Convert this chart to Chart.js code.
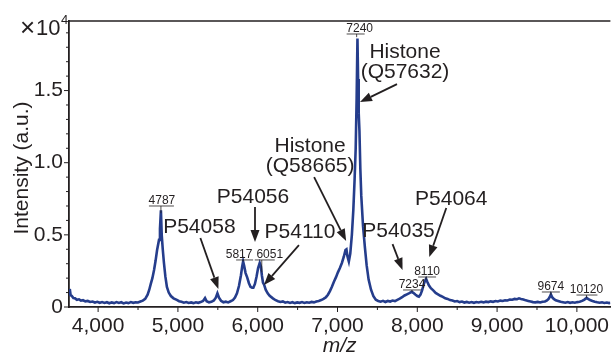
<!DOCTYPE html>
<html>
<head>
<meta charset="utf-8">
<script src="https://cdn.jsdelivr.net/npm/chart.js@4.4.1/dist/chart.umd.min.js"></script>
<style>
  html, body { margin: 0; padding: 0; background: #fff; }
  canvas { display: block; }
</style>
</head>
<body>
<canvas id="spec" width="616" height="356"></canvas>
<script>
// MALDI spectrum: m/z and intensity (counts)
const mzValues = [
  3635, 3645, 3655, 3670, 3690, 3710, 3735, 3760, 3785, 3810, 3840, 3870, 3900, 3930, 3960, 3990,
  4020, 4050, 4080, 4110, 4140, 4170, 4200, 4230, 4260, 4290, 4320, 4350, 4380, 4410, 4440, 4470,
  4500, 4530, 4560, 4590, 4620, 4640, 4660, 4680, 4701, 4720, 4739, 4763, 4775, 4787, 4797, 4810,
  4825, 4843, 4862, 4885, 4912, 4945, 4986, 5015, 5045, 5075, 5105, 5135, 5165, 5195, 5225, 5255,
  5285, 5315, 5340, 5360, 5390, 5420, 5450, 5475, 5495, 5515, 5540, 5570, 5600, 5630, 5660, 5690,
  5715, 5740, 5765, 5790, 5805, 5817, 5830, 5848, 5868, 5890, 5910, 5930, 5945, 5965, 5985, 6005,
  6025, 6040, 6052, 6066, 6080, 6100, 6125, 6150, 6190, 6225, 6255, 6285, 6315, 6345, 6375, 6405,
  6435, 6465, 6495, 6525, 6555, 6585, 6615, 6645, 6675, 6705, 6735, 6765, 6795, 6825, 6855, 6880,
  6905, 6930, 6955, 6980, 7005, 7030, 7055, 7080, 7100, 7112, 7125, 7142, 7160, 7180, 7198, 7214,
  7228, 7240, 7250, 7258, 7266, 7275, 7286, 7298, 7320, 7344, 7365, 7390, 7420, 7450, 7480, 7510,
  7540, 7570, 7600, 7630, 7660, 7690, 7720, 7750, 7780, 7810, 7840, 7870, 7900, 7930, 7950, 7975,
  8000, 8020, 8040, 8060, 8080, 8095, 8110, 8125, 8145, 8170, 8200, 8230, 8260, 8290, 8320, 8350,
  8380, 8410, 8440, 8470, 8500, 8530, 8560, 8590, 8620, 8650, 8680, 8710, 8740, 8770, 8800, 8830,
  8860, 8890, 8920, 8950, 8980, 9010, 9040, 9070, 9100, 9130, 9160, 9190, 9220, 9250, 9275, 9300,
  9330, 9360, 9390, 9420, 9450, 9480, 9510, 9540, 9570, 9600, 9625, 9645, 9660, 9674, 9690, 9710,
  9735, 9765, 9795, 9825, 9855, 9885, 9915, 9945, 9975, 10005, 10035, 10065, 10090, 10110, 10122, 10140,
  10165, 10195, 10225, 10255, 10285, 10315, 10345, 10375, 10405, 10420
];
const intensity = [
  900, 1250, 820, 760, 620, 600, 500, 530, 440, 470, 390, 420, 350, 380, 310, 360,
  290, 340, 280, 330, 260, 320, 270, 340, 280, 330, 250, 310, 270, 340, 290, 330,
  310, 380, 440, 560, 850, 1180, 1600, 2000, 2560, 3200, 3950, 4650, 5400, 6700, 5000, 4000,
  3050, 2100, 1390, 1000, 760, 600, 490, 400, 360, 300, 340, 280, 320, 270, 330, 290,
  340, 420, 620, 400, 320, 360, 450, 650, 950, 650, 430, 330, 370, 320, 400, 480,
  650, 950, 1450, 2200, 2800, 3150, 2850, 2350, 2050, 1650, 1400, 1330, 1330, 1600, 2100, 2700,
  3050, 2800, 2200, 1700, 1550, 1200, 950, 780, 600, 470, 400, 350, 390, 300, 340, 280,
  330, 270, 320, 290, 340, 280, 330, 300, 350, 320, 380, 420, 480, 560, 680, 850,
  1100, 1400, 1750, 2050, 2400, 2700, 3050, 3500, 3950, 4000, 3500, 3150, 3700, 5000, 6700, 8800,
  11000, 14500, 18600, 15800, 13400, 12200, 9600, 7700, 5600, 4100, 2900, 1900, 1200, 750, 500, 420,
  370, 430, 350, 420, 380, 450, 410, 500, 580, 680, 800, 880, 960, 1050, 980, 860,
  760, 720, 860, 1150, 1550, 1800, 1950, 1750, 1500, 1300, 1150, 980, 880, 780, 700, 600,
  560, 480, 450, 380, 410, 340, 380, 310, 350, 300, 340, 290, 340, 310, 360, 320,
  370, 340, 390, 360, 410, 380, 440, 420, 470, 450, 510, 500, 560, 540, 600, 560,
  520, 460, 420, 380, 340, 320, 350, 310, 360, 380, 450, 560, 700, 880, 680, 560,
  470, 420, 360, 330, 300, 340, 290, 330, 300, 340, 360, 420, 500, 580, 640, 560,
  480, 420, 370, 330, 300, 330, 280, 310, 270, 290
];

const xTicks = [4000, 5000, 6000, 7000, 8000, 9000, 10000];
const yTicks = [0, 5000, 10000, 15000];

// small peak tags
const peakMz = [4787, 5817, 6051, 7240, 7934, 8110, 9674, 10120];
const peakText = ['4787', '5817', '6051', '7240', '7234', '8110', '9674', '10120'];
const peakBarLevel = [7000, 3260, 3260, 18920, 1180, 2080, 1040, 830];
const peakTipLevel = [6500, 3150, 2400, 18700, 1040, 1870, 830, 620];

// protein call-outs (arrow tip in data units)
const calloutText = [['Histone', '(Q57632)'], ['Histone', '(Q58665)'], ['P54058'], ['P54056'], ['P54110'], ['P54035'], ['P54064']];
const calloutMz = [7282, 7108, 5507, 5966, 6078, 7815, 8150];
const calloutLevel = [14200, 4570, 1250, 4500, 1520, 2560, 3460];

const FONT = '"Liberation Sans", Arial, Helvetica, sans-serif';
const INK = '#231f20';

// layout of tags / call-outs, pixel offsets from their anchors
const tagLayout = [
  {tx: 1, b0: -12, b1: 13}, {tx: -4, b0: -7, b1: 10}, {tx: 8, b0: -7, b1: 13}, {tx: 3, b0: -10, b1: 8},
  {tx: 0, b0: -9, b1: 9}, {tx: 1, b0: -8, b1: 10}, {tx: 0, b0: -9, b1: 9}, {tx: 0, b0: -10, b1: 11}
];
const calloutLayout = [
  {tail: [37, -18], text: [45, -44]},
  {tail: [-32, -64], text: [-36, -89]},
  {tail: [-18, -51], text: [-19, -56]},
  {tail: [0, -35], text: [-2, -39]},
  {tail: [35, -40], text: [36, -47]},
  {tail: [-10, -26], text: [-4, -33]},
  {tail: [17, -49], text: [22, -52]}
];

function drawArrow(ctx, x0, y0, x1, y1) {
  const a = Math.atan2(y1 - y0, x1 - x0), L = 12, W = 4.5;
  const bx = x1 - L * Math.cos(a), by = y1 - L * Math.sin(a);
  ctx.beginPath(); ctx.moveTo(x0, y0); ctx.lineTo(bx, by); ctx.stroke();
  ctx.beginPath();
  ctx.moveTo(x1, y1);
  ctx.lineTo(bx + W * Math.sin(a), by - W * Math.cos(a));
  ctx.lineTo(bx - W * Math.sin(a), by + W * Math.cos(a));
  ctx.closePath(); ctx.fill();
}

const decorations = {
  id: 'decorations',
  afterDraw(chart) {
    const {ctx, chartArea: a, scales: {x, y}} = chart;
    ctx.save();
    ctx.strokeStyle = INK; ctx.fillStyle = INK;

    // top frame line
    ctx.lineWidth = 1.5;
    ctx.beginPath(); ctx.moveTo(a.left, a.top); ctx.lineTo(a.right, a.top); ctx.stroke();

    // tick marks (outward), minor every 500 on x, every 1000 on y
    ctx.lineWidth = 1;
    for (let v = 3500; v <= 10500; v += 500) {
      const px = x.getPixelForValue(v);
      if (px < a.left || px > a.right) continue;
      const len = v % 1000 === 0 ? 5 : 3;
      ctx.beginPath(); ctx.moveTo(px, a.bottom); ctx.lineTo(px, a.bottom + len); ctx.stroke();
    }
    for (let v = 0; v <= 19000; v += 1000) {
      const py = y.getPixelForValue(v);
      const len = v % 5000 === 0 ? 5 : 3;
      ctx.beginPath(); ctx.moveTo(a.left, py); ctx.lineTo(a.left - len, py); ctx.stroke();
    }

    // x10^4 multiplier
    ctx.textBaseline = 'alphabetic';
    ctx.textAlign = 'left';
    ctx.font = '26px ' + FONT;
    ctx.fillText('\u00d7', 20, 36);
    ctx.font = '22px ' + FONT;
    ctx.fillText('10', 36, 35);
    ctx.font = '13px ' + FONT;
    ctx.fillText('4', 61, 24);

    // axis titles
    ctx.font = '21px ' + FONT;
    ctx.save();
    ctx.translate(28, 168); ctx.rotate(-Math.PI / 2);
    ctx.textAlign = 'center';
    ctx.fillText('Intensity (a.u.)', 0, 0);
    ctx.restore();
    ctx.font = 'italic 21px ' + FONT;
    ctx.textAlign = 'center';
    ctx.fillText('m/z', (a.left + a.right) / 2, 352);

    // small peak tags with bar and drop line
    ctx.font = '12px ' + FONT;
    ctx.lineWidth = 0.8;
    peakMz.forEach((m, i) => {
      const L = tagLayout[i];
      const px = x.getPixelForValue(m);
      const by = y.getPixelForValue(peakBarLevel[i]);
      const ty = y.getPixelForValue(peakTipLevel[i]);
      ctx.beginPath();
      ctx.moveTo(px + L.b0, by); ctx.lineTo(px + L.b1, by);
      ctx.moveTo(px, by); ctx.lineTo(px, ty);
      ctx.stroke();
      ctx.textAlign = 'center';
      ctx.fillText(peakText[i], px + L.tx, by - 2);
    });

    // protein call-outs with arrows
    ctx.font = '21px ' + FONT;
    ctx.lineWidth = 1.8;
    calloutMz.forEach((m, i) => {
      const L = calloutLayout[i];
      const px = x.getPixelForValue(m);
      const py = y.getPixelForValue(calloutLevel[i]);
      drawArrow(ctx, px + L.tail[0], py + L.tail[1], px, py);
      ctx.textAlign = 'center';
      calloutText[i].forEach((t, k) => ctx.fillText(t, px + L.text[0], py + L.text[1] + k * 20));
    });
    ctx.restore();
  }
};

new Chart(document.getElementById('spec'), {
  type: 'line',
  data: {
    datasets: [{
      data: mzValues.map((m, i) => ({x: m, y: intensity[i]})),
      borderColor: '#253d8c',
      borderWidth: 2.6,
      pointRadius: 0,
      tension: 0
    }]
  },
  options: {
    responsive: false,
    animation: false,
    devicePixelRatio: 1,
    layout: {padding: {top: 21, right: 0, left: 0, bottom: 0}},
    plugins: {legend: {display: false}, tooltip: {enabled: false}},
    scales: {
      x: {
        type: 'linear', min: 3635, max: 10420,
        afterFit(s) { s.height = 49; },
        afterBuildTicks(s) { s.ticks = xTicks.map(v => ({value: v})); },
        grid: {display: false, drawTicks: false},
        border: {display: true, color: INK, width: 1.8},
        ticks: {
          padding: 7, color: INK, maxRotation: 0,
          font: {family: FONT, size: 21},
          callback: v => v.toLocaleString('en-US')
        }
      },
      y: {
        min: 0, max: 19820,
        afterFit(s) { s.width = 69; },
        afterBuildTicks(s) { s.ticks = yTicks.map(v => ({value: v})); },
        grid: {display: false, drawTicks: false},
        border: {display: true, color: INK, width: 1.8},
        ticks: {
          padding: 6, color: INK,
          font: {family: FONT, size: 21},
          callback: v => v === 0 ? '0' : (v / 10000).toFixed(1)
        }
      }
    }
  },
  plugins: [decorations]
});
</script>
</body>
</html>
